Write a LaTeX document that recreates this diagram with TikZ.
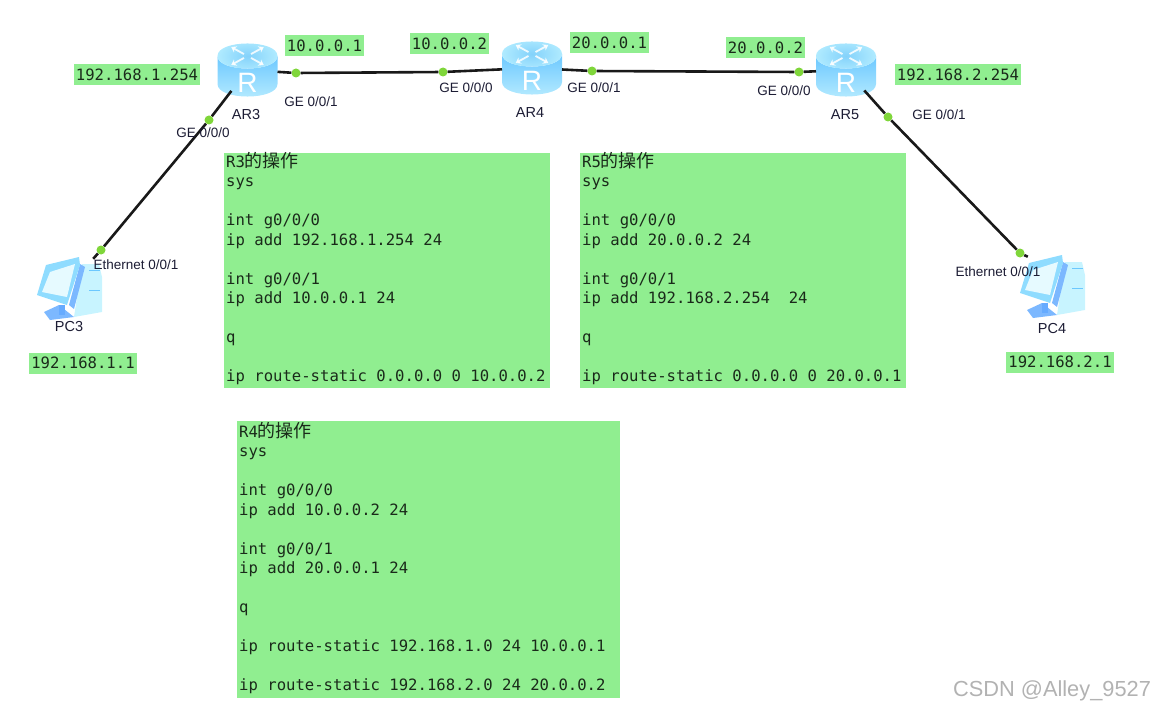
\documentclass[tikz,border=0pt]{standalone}
\usepackage{xcolor}
\usepackage{fontspec}
\setmainfont{Liberation Sans}
\newfontfamily\cfgmono{DejaVu Sans Mono}
\newfontfamily\cjk{Noto Sans CJK SC}
\usepackage{tikz}
\usetikzlibrary{arrows.meta,positioning,shapes.geometric}

\definecolor{cfggreen}{HTML}{90EE90}
\definecolor{portgreen}{HTML}{7FD63A}
\definecolor{labelink}{HTML}{1C1C34}
\definecolor{cfgink}{HTML}{1A2A1A}
\definecolor{routerrim}{HTML}{B0EBFF}
\definecolor{routertop}{HTML}{84D2FB}
\definecolor{routerbody}{HTML}{6CC8FF}
\definecolor{routerlow}{HTML}{B8ECFF}
\definecolor{pcbezel}{HTML}{8FDCFF}
\definecolor{pcback}{HTML}{7CB8FF}
\definecolor{pctower}{HTML}{C8F4FF}
\definecolor{pcscreen}{HTML}{E6FAFF}

\newcommand{\cfghead}[1]{#1\smash{\cjk\fontsize{18}{19.5}\selectfont 的操作}}

\tikzset{
    cfgbox/.style={fill=cfggreen, anchor=north west, align=flush left, inner xsep=2pt, inner ysep=2.6pt,
                   text=cfgink, font=\cfgmono\fontsize{15.6}{19.5}\selectfont},
    ipaddr/.style={fill=cfggreen, inner xsep=2pt, inner ysep=0pt, minimum height=21pt,
                   text=cfgink, font=\cfgmono\fontsize{15.6}{19}\selectfont},
    port/.style={circle, fill=portgreen, inner sep=0pt, minimum size=9pt},
    portname/.style={text=labelink, inner sep=0pt, font=\fontsize{13.5}{15}\selectfont},
    devname/.style={text=labelink, inner sep=0pt, font=\fontsize{14.5}{16}\selectfont},
    router/.style={cylinder, shape border rotate=90, aspect=0.83, inner sep=0pt, outer sep=0pt,
                   minimum width=60pt, minimum height=53pt,
                   text=white, font=\fontsize{28}{28}\selectfont},
    pc/.style={inner sep=0pt, minimum width=48pt, minimum height=56pt},
    link/.style={line width=2.6pt, black!90}
}

% cylinder faces and four small arrows of a router
\newcommand{\routerface}[1]{
    \begin{scope}[shift={(#1)}]
        \shade[top color=routerbody, bottom color=routerlow]
            (-30,-14) -- (-30,14) .. controls (-30,30.7) and (30,30.7) .. (30,14)
            -- (30,-14) .. controls (30,2.7) and (-30,2.7) .. (-30,-14);
        \shade[inner color=routertop, outer color=routerrim]
            (-30,-14) .. controls (-30,-30.7) and (30,-30.7) .. (30,-14)
            .. controls (30,2.7) and (-30,2.7) .. (-30,-14);
        \foreach \ang in {45,135,225,315}
            \draw[white, opacity=0.85, line width=1.8pt, -{Stealth[length=5pt,width=7pt]}, yshift=14pt,
                  yscale=0.55, rotate=\ang] (5pt,0) -- (23pt,0);
    \end{scope}
}

% monitor and tower of a pc
\newcommand{\pcicon}[1]{
    \begin{scope}[shift={(#1)}]
        \fill[pctower] (13,-23) -- (30,-23) -- (33,-10) -- (33,25) -- (5,30) -- cycle;
        \draw[routerbody, line width=0.8pt] (20,-17) -- (31,-17) (20,3) -- (31,3);
        \fill[pcback] (-25,25) -- (-10,18) -- (5,30) -- (-19,33) -- cycle;
        \fill[blue!55!cyan!60] (-10,18) -- (-4,18) -- (-4,28) -- (-10,28) -- cycle;
        \fill[pcback] (11,-23) -- (16,-20) -- (5,22) -- (0,18) -- cycle;
        \fill[pcbezel] (10,-30) -- (-23,-22) -- (-32,8) -- (-2,18) -- (11,-22) -- cycle;
        \fill[pcscreen] (-19,-15) -- (6,-23) -- (-2,10) -- (-27,5) -- cycle;
    \end{scope}
}

\begin{document}
\begin{tikzpicture}[x=1pt, y=-1pt]
    \useasboundingbox (0,0) rectangle (1155,711);

    % routers and pcs
    \routerface{247.5,70}
    \routerface{532,68}
    \routerface{846,70}
    \node[router] (ar3) at (247.5,70) {\smash{\raisebox{-23pt}{R}}};
    \node[router] (ar4) at (532,68)   {\smash{\raisebox{-23pt}{R}}};
    \node[router] (ar5) at (846,70)   {\smash{\raisebox{-23pt}{R}}};

    \pcicon{69,287}
    \pcicon{1052,285}
    \node[pc] (pc3) at (69,287)   {};
    \node[pc] (pc4) at (1052,285) {};

    % ports
    \node[port] (ar3_g0) at (209,120) {};
    \node[port] (ar3_g1) at (296,73)  {};
    \node[port] (ar4_g0) at (443,72)  {};
    \node[port] (ar4_g1) at (592,71)  {};
    \node[port] (ar5_g0) at (799,72)  {};
    \node[port] (ar5_g1) at (888,117) {};
    \node[port] (pc3_e0) at (101,250) {};
    \node[port] (pc4_e0) at (1020,253) {};

    % Define links
    \path[link]
     (ar3)    edge (ar3_g1)
     (ar3_g1) edge (ar4_g0)
     (ar4_g0) edge (ar4)
     (ar4)    edge (ar4_g1)
     (ar4_g1) edge (ar5_g0)
     (ar5_g0) edge (ar5)
     (ar3)    edge (ar3_g0)
     (ar3_g0) edge (pc3_e0)
     (pc3_e0) edge (pc3.north east)
     (ar5)    edge (ar5_g1)
     (ar5_g1) edge (pc4_e0)
     (pc4_e0) edge (pc4.north west);

    % device and port names
    \node[devname] (ar3_name) at (246,115) {AR3};
    \node[devname] (ar4_name) at (530,113) {AR4};
    \node[devname] (ar5_name) at (845,115) {AR5};
    \node[devname] (pc3_name) at (69,327)   {PC3};
    \node[devname] (pc4_name) at (1052,329) {PC4};
    \node[portname] (ar3_g0_name) at (203,133) {GE 0/0/0};
    \node[portname] (ar3_g1_name) at (311,102) {GE 0/0/1};
    \node[portname] (ar4_g0_name) at (466,88)  {GE 0/0/0};
    \node[portname] (ar4_g1_name) at (594,88)  {GE 0/0/1};
    \node[portname] (ar5_g0_name) at (784,91)  {GE 0/0/0};
    \node[portname] (ar5_g1_name) at (939,115) {GE 0/0/1};
    \node[portname] (pc3_e0_name) at (136,265) {Ethernet 0/0/1};
    \node[portname] (pc4_e0_name) at (998,272) {Ethernet 0/0/1};

    % addresses
    \node[ipaddr] (ip_ar3_g0) at (137,75)   {192.168.1.254};
    \node[ipaddr] (ip_ar3_g1) at (324.5,46) {10.0.0.1};
    \node[ipaddr] (ip_ar4_g0) at (449.5,44) {10.0.0.2};
    \node[ipaddr] (ip_ar4_g1) at (609.5,43) {20.0.0.1};
    \node[ipaddr] (ip_ar5_g0) at (765.5,48) {20.0.0.2};
    \node[ipaddr] (ip_ar5_g1) at (958,75)   {192.168.2.254};
    \node[ipaddr] (ip_pc3)    at (83,363)   {192.168.1.1};
    \node[ipaddr] (ip_pc4)    at (1060,362) {192.168.2.1};

    % configs
    \node[cfgbox, text width=322pt] (cfg_r3) at (224,153) {%
        \cfghead{R3}\\sys\\~\\int g0/0/0\\ip add 192.168.1.254 24\\~\\int g0/0/1\\ip add 10.0.0.1 24\\~\\q\\~\\ip route-static 0.0.0.0 0 10.0.0.2};
    \node[cfgbox, text width=322pt] (cfg_r5) at (580,153) {%
        \cfghead{R5}\\sys\\~\\int g0/0/0\\ip add 20.0.0.2 24\\~\\int g0/0/1\\ip add 192.168.2.254~~24\\~\\q\\~\\ip route-static 0.0.0.0 0 20.0.0.1};
    \node[cfgbox, text width=379pt, inner ysep=4.5pt] (cfg_r4) at (237,421) {%
        \cfghead{R4}\\sys\\~\\int g0/0/0\\ip add 10.0.0.2 24\\~\\int g0/0/1\\ip add 20.0.0.1 24\\~\\q\\~\\ip route-static 192.168.1.0 24 10.0.0.1\\~\\ip route-static 192.168.2.0 24 20.0.0.2};

    \node[text=black!30, inner sep=0pt, font=\fontsize{21.8}{24}\selectfont] (mark) at (1052,691) {CSDN @Alley\_9527};
\end{tikzpicture}
\end{document}
